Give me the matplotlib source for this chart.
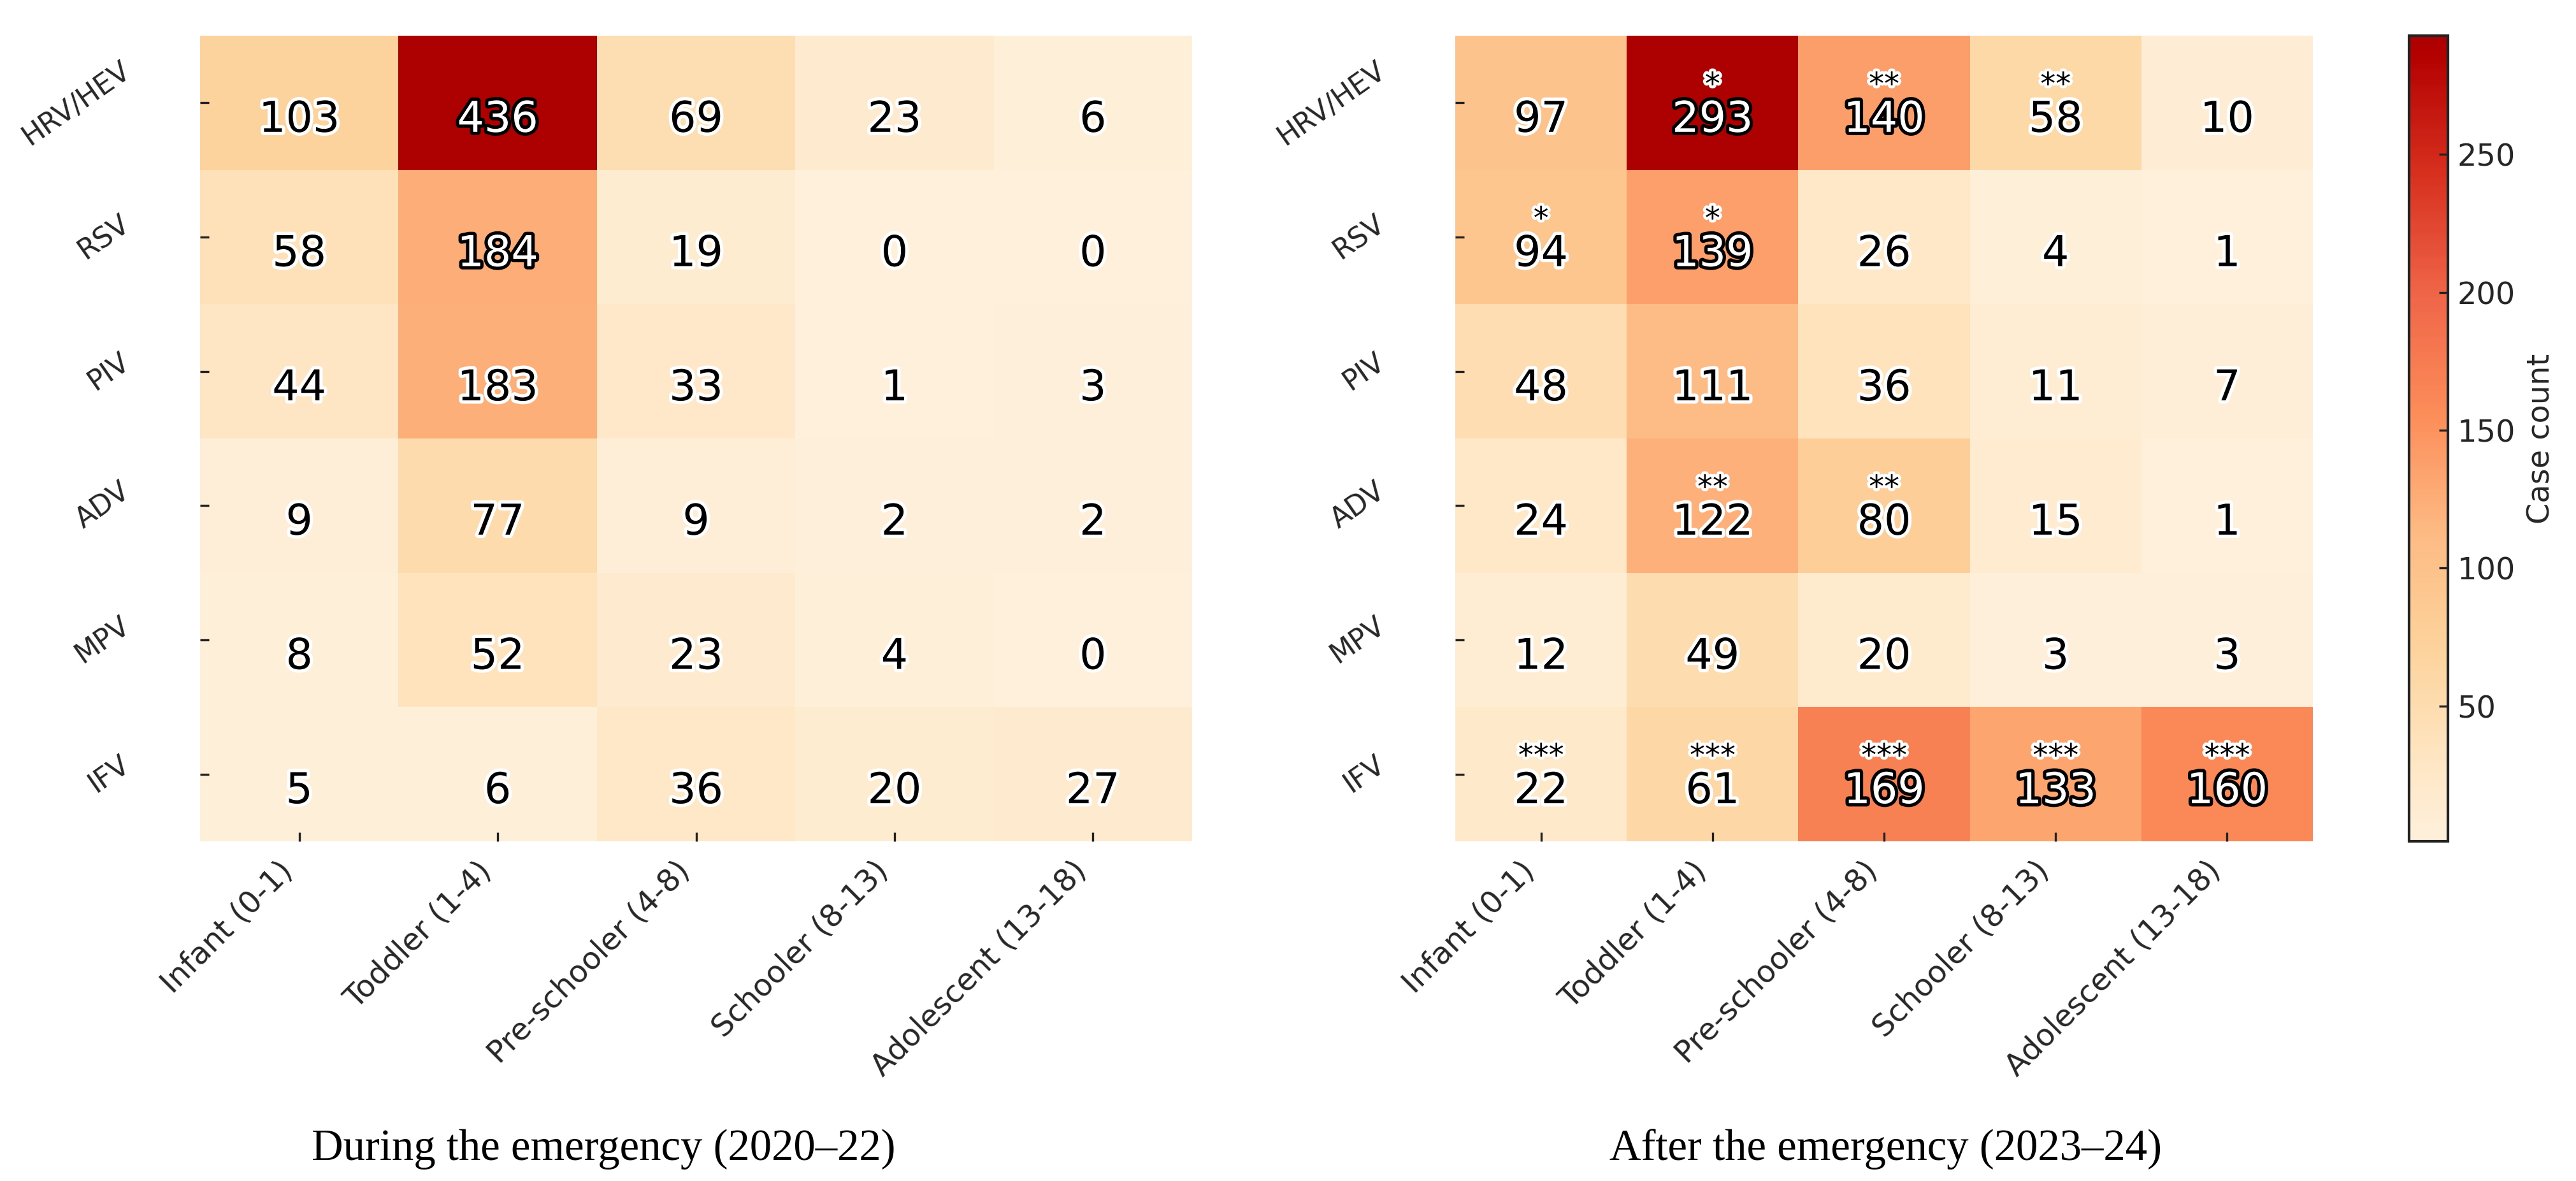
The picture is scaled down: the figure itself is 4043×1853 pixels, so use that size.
import numpy as np
import matplotlib
matplotlib.use("Agg")
import matplotlib.pyplot as plt
from matplotlib.colors import LinearSegmentedColormap
import matplotlib.patheffects as pe

viruses = ["HRV/HEV", "RSV", "PIV", "ADV", "MPV", "IFV"]
age_groups = ["Infant (0-1)", "Toddler (1-4)", "Pre-schooler (4-8)",
              "Schooler (8-13)", "Adolescent (13-18)"]

during = np.array([
    [103, 436, 69, 23, 6],
    [58, 184, 19, 0, 0],
    [44, 183, 33, 1, 3],
    [9, 77, 9, 2, 2],
    [8, 52, 23, 4, 0],
    [5, 6, 36, 20, 27],
])
after = np.array([
    [97, 293, 140, 58, 10],
    [94, 139, 26, 4, 1],
    [48, 111, 36, 11, 7],
    [24, 122, 80, 15, 1],
    [12, 49, 20, 3, 3],
    [22, 61, 169, 133, 160],
])
after_stars = [
    ["", "*", "**", "**", ""],
    ["*", "*", "", "", ""],
    ["", "", "", "", ""],
    ["", "**", "**", "", ""],
    ["", "", "", "", ""],
    ["***", "***", "***", "***", "***"],
]
titles = ["During the emergency (2020\u201322)", "After the emergency (2023\u201324)"]
cbar_label = "Case count"

W, H = 4043, 1853
base = plt.get_cmap("OrRd")
cmap = LinearSegmentedColormap.from_list("trunc", base(np.linspace(0.06, 0.89, 256)))

plt.rcParams["font.family"] = ["DejaVu Sans"]
fig = plt.figure(figsize=(W / 300, H / 300), dpi=300)
top, bot = 56, 1320
ax1 = fig.add_axes([314 / W, 1 - bot / H, (1871 - 314) / W, (bot - top) / H])
ax2 = fig.add_axes([2284 / W, 1 - bot / H, (3630 - 2284) / W, (bot - top) / H])
cax = fig.add_axes([3781 / W, 1 - bot / H, 61 / W, (bot - top) / H])

tick_col = "#262626"
meshes = []
for ax, data, stars in [(ax1, during, None), (ax2, after, after_stars)]:
    vmin, vmax = data.min(), data.max()
    m = ax.pcolormesh(np.arange(data.shape[1] + 1), np.arange(data.shape[0] + 1),
                      data, cmap=cmap, vmin=vmin, vmax=vmax)
    meshes.append(m)
    ax.set_xlim(0, data.shape[1])
    ax.set_ylim(data.shape[0], 0)
    ax.set_xticks(np.arange(data.shape[1]) + 0.5)
    ax.set_xticklabels(age_groups, rotation=45, ha="right",
                       fontsize=11.5, color=tick_col)
    ax.set_yticks(np.arange(data.shape[0]) + 0.5)
    ax.set_yticklabels(viruses, rotation=35, ha="right", va="center",
                       fontsize=10.5, color=tick_col)
    ax.tick_params(axis="x", direction="in", length=3.3, width=0.8, pad=5.5, color="#222")
    ax.tick_params(axis="y", direction="in", length=3.3, width=0.8, pad=24.5, color="#222")
    for s in ax.spines.values():
        s.set_visible(False)
    for i in range(data.shape[0]):
        for j in range(data.shape[1]):
            v = data[i, j]
            frac = (v - vmin) / (vmax - vmin)
            if frac > 0.42:
                fc, ec = "white", "black"
            else:
                fc, ec = "black", "white"
            ax.text(j + 0.5, i + 0.716, str(v), ha="center", va="baseline",
                    fontsize=16, color=fc,
                    path_effects=[pe.withStroke(linewidth=2.5, foreground=ec)])
            if stars is not None and stars[i][j]:
                ax.text(j + 0.5, i + 0.435, stars[i][j], ha="center", va="baseline",
                        fontsize=11.5, color="black",
                        path_effects=[pe.withStroke(linewidth=2.2, foreground="white")])

cb = fig.colorbar(meshes[1], cax=cax)
cb.outline.set_linewidth(1.0)
cb.outline.set_edgecolor("#222")
cax.tick_params(direction="in", length=3.3, width=0.8, labelsize=11.5,
                color="#222", labelcolor=tick_col)
cb.set_label(cbar_label, fontsize=11.5, color=tick_col)

fig.text(947 / W, 1 - 1820 / H, titles[0], ha="center", va="baseline",
         family="Liberation Serif", fontsize=16.5)
fig.text(2960 / W, 1 - 1820 / H, titles[1], ha="center", va="baseline",
         family="Liberation Serif", fontsize=16.5)

fig.savefig("out.png", dpi=300)
